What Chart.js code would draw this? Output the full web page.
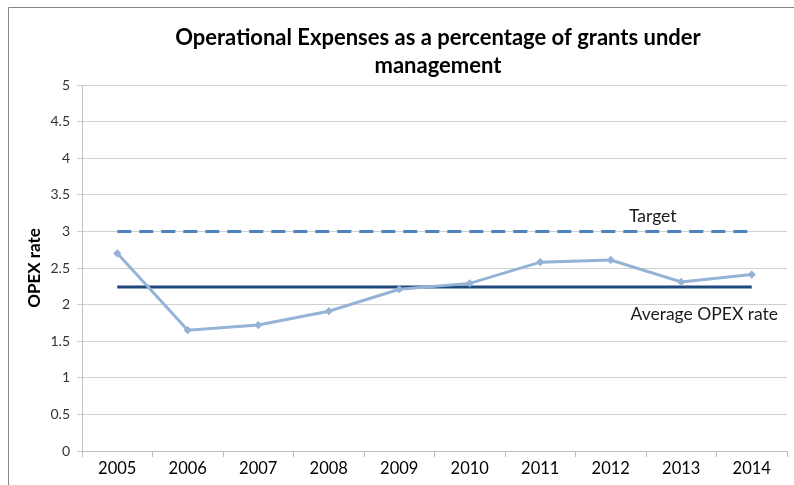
<!DOCTYPE html>
<html>
<head>
<meta charset="utf-8">
<script src="https://cdn.jsdelivr.net/npm/chart.js@4/dist/chart.umd.min.js"></script>
<style>
  html, body { margin: 0; padding: 0; background: #fff; }
  #wrap { position: relative; width: 794px; height: 485px; }
</style>
</head>
<body>
<div id="wrap"><canvas id="c"></canvas></div>
<script>
// Years on the category axis
const years = ['2005', '2006', '2007', '2008', '2009', '2010', '2011', '2012', '2013', '2014'];
// Operational expenses as a percentage of grants under management
const opexRate = [2.70, 1.65, 1.72, 1.91, 2.21, 2.29, 2.58, 2.61, 2.31, 2.41];
// Target level
const targetRate = [3, 3, 3, 3, 3, 3, 3, 3, 3, 3];
// Average OPEX rate over the period
const averageRate = [2.24, 2.24, 2.24, 2.24, 2.24, 2.24, 2.24, 2.24, 2.24, 2.24];
// Y axis ticks
const yTicks = [0, 0.5, 1, 1.5, 2, 2.5, 3, 3.5, 4, 4.5, 5];

const FONT = 'Lato, "Open Sans", sans-serif';

// Frame, title and the labels beside the reference lines
const decorations = {
  id: 'decorations',
  afterDraw(chart) {
    const ctx = chart.ctx;
    const x = chart.scales.x, y = chart.scales.y;
    ctx.save();
    ctx.strokeStyle = '#868686';
    ctx.lineWidth = 1;
    ctx.beginPath();
    ctx.moveTo(8.5, 485);
    ctx.lineTo(8.5, 7.5);
    ctx.lineTo(794, 7.5);
    ctx.stroke();

    ctx.fillStyle = '#000';
    ctx.textAlign = 'center';
    ctx.textBaseline = 'middle';
    ctx.font = 'bold 22px ' + FONT;
    ctx.fillText('Operational Expenses as a percentage of grants under', 438, 38);
    ctx.fillText('management', 438, 66);

    ctx.font = '17.5px ' + FONT;
    ctx.fillStyle = '#1a1a1a';
    ctx.fillText('Target', x.getPixelForValue(7) + 42, y.getPixelForValue(targetRate[7]) - 15);
    ctx.fillText('Average OPEX rate', x.getPixelForValue(8) + 23, y.getPixelForValue(averageRate[8]) + 27);
    ctx.restore();
  }
};

new Chart(document.getElementById('c'), {
  type: 'line',
  data: {
    labels: years,
    datasets: [
      {
        label: 'Target',
        data: targetRate,
        borderColor: '#4f81bd',
        borderWidth: 3,
        borderDash: [14, 8],
        pointRadius: 0,
        tension: 0
      },
      {
        label: 'OPEX rate',
        data: opexRate,
        borderColor: '#95b3d7',
        backgroundColor: '#95b3d7',
        borderWidth: 3,
        pointRadius: 2,
        pointStyle: 'rectRot',
        tension: 0
      },
      {
        label: 'Average OPEX rate',
        data: averageRate,
        borderColor: '#1f497d',
        borderWidth: 3,
        pointRadius: 0,
        tension: 0
      }
    ]
  },
  options: {
    responsive: true,
    maintainAspectRatio: false,
    animation: false,
    layout: { padding: { left: 0, right: 5, top: 85, bottom: 0 } },
    plugins: {
      legend: { display: false },
      tooltip: { enabled: false }
    },
    scales: {
      x: {
        offset: true,
        grid: {
          offset: true,
          drawOnChartArea: false,
          tickLength: 6,
          color: '#bfbfbf'
        },
        border: { color: '#bfbfbf' },
        ticks: {
          color: '#000',
          font: { family: FONT, size: 16.5 },
          padding: 2,
          maxRotation: 0
        },
        afterFit(scale) { scale.height = 34; }
      },
      y: {
        min: 0,
        max: 5,
        afterBuildTicks(scale) { scale.ticks = yTicks.map(v => ({ value: v })); },
        grid: { color: '#d0d0d0', tickLength: 5 },
        border: { color: '#bfbfbf' },
        ticks: {
          color: '#333',
          font: { family: FONT, size: 14 },
          padding: 7,
          callback: (v) => String(v)
        },
        title: {
          display: true,
          text: 'OPEX rate',
          color: '#000',
          font: { family: FONT, size: 17, weight: 'bold' },
          padding: { top: 24, bottom: 0 }
        },
        afterFit(scale) { scale.width = 82; }
      }
    }
  },
  plugins: [decorations]
});
</script>
</body>
</html>
